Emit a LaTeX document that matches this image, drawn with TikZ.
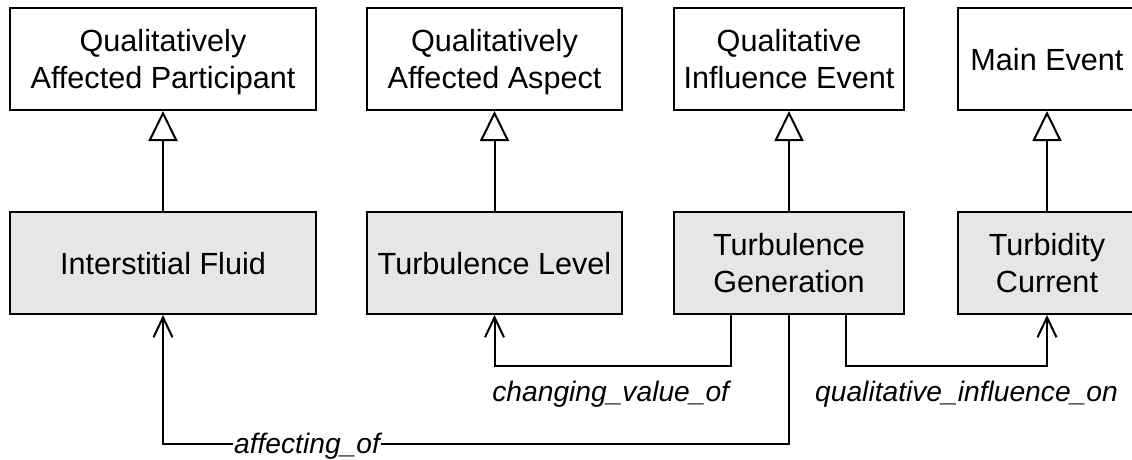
\documentclass[tikz,border=0pt]{standalone}
\usepackage{fontspec}
\setmainfont{Liberation Sans}
\usetikzlibrary{arrows.meta}
\definecolor{instfill}{HTML}{E6E6E6}
\begin{document}
\begin{tikzpicture}[x=1pt,y=-1pt,
  cls/.style={draw=black, line width=2pt, fill=white, minimum height=102pt,
    inner sep=0pt, align=center, text depth=0pt,
    font=\fontsize{30.6}{37.5}\selectfont},
  inst/.style={cls, fill=instfill},
  isa/.style={draw, line width=2pt, -{Triangle[open, length=30pt, width=29pt]}},
  rel/.style={draw, line width=2pt, -{Straight Barb[length=20pt, width=19pt]}},
  lbl/.style={font=\fontsize{28.2}{34}\selectfont\itshape, inner sep=1pt}
]
\useasboundingbox (0,0) rectangle (1132,460);

% classes
\node[cls, minimum width=306pt] (qap) at (163,59) {Qualitatively\\Affected Participant};
\node[cls, minimum width=255pt] (qaa) at (494.5,59) {Qualitatively\\Affected Aspect};
\node[cls, minimum width=230pt] (qie) at (789,59) {Qualitative\\Influence Event};
\node[cls, minimum width=178pt] (me) at (1047,59) {Main Event};

% instances
\node[inst, minimum width=306pt] (if) at (163,263) {Interstitial Fluid};
\node[inst, minimum width=255pt] (tl) at (494.5,263) {Turbulence Level};
\node[inst, minimum width=230pt] (tg) at (789,263) {Turbulence\\Generation};
\node[inst, minimum width=178pt] (tc) at (1047,263) {Turbidity\\Current};

% generalisations
\draw[isa] (if) -- (qap);
\draw[isa] (tl) -- (qaa);
\draw[isa] (tg) -- (qie);
\draw[isa] (tc) -- (me);

% relations
\draw[rel] ([xshift=-58pt]tg.south) -- ++(0,51) -|
  node[lbl, pos=0.25, anchor=base, yshift=-35pt, xshift=-2pt] {changing\_value\_of} (tl.south);
\draw[rel] ([xshift=57pt]tg.south) -- ++(0,51) -|
  node[lbl, pos=0.25, anchor=base, yshift=-35pt, xshift=20pt] {qualitative\_influence\_on} (tc.south);
\draw[rel] (tg.south) -- ++(0,129) -|
  node[lbl, pos=0.385, anchor=base, yshift=-9pt, fill=white] {affecting\_of} (if.south);
\end{tikzpicture}
\end{document}
